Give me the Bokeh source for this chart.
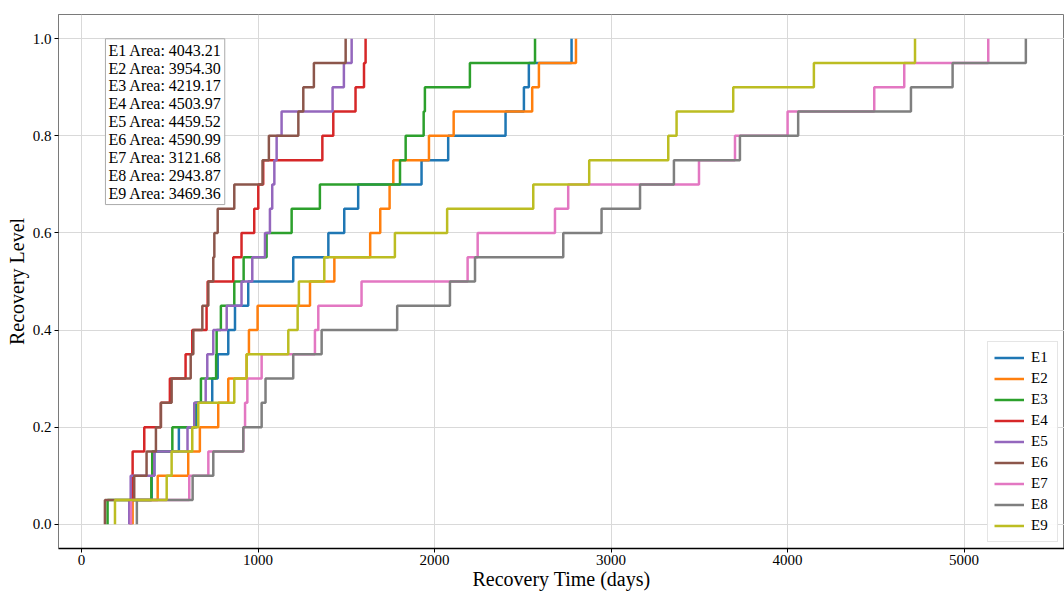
from bokeh.plotting import figure
from bokeh.models import Range1d, FixedTicker, PrintfTickFormatter, Label, Legend, LegendItem
from bokeh.embed import file_html
from bokeh.resources import INLINE

# Recovery levels (each event rises in 0.05 steps)
levels = [0.00, 0.05, 0.10, 0.15, 0.20, 0.25, 0.30, 0.35, 0.40, 0.45, 0.50,
          0.55, 0.60, 0.65, 0.70, 0.75, 0.80, 0.85, 0.90, 0.95, 1.00]

# Recovery times (days) at which each step up happens
E1 = [283, 397, 412, 551, 652, 740, 771, 831, 869, 944, 1199, 1398, 1488, 1567, 1926, 2077, 2402, 2506, 2534, 2776]
E2 = [289, 431, 604, 670, 774, 831, 935, 948, 997, 1294, 1432, 1635, 1692, 1745, 1766, 1968, 2108, 2553, 2591, 2801]
E3 = [147, 395, 400, 514, 642, 676, 762, 765, 789, 865, 918, 1048, 1190, 1350, 1804, 1836, 1938, 1945, 2200, 2569]
E4 = [275, 285, 289, 355, 449, 500, 589, 627, 708, 714, 859, 906, 978, 1001, 1029, 1364, 1426, 1552, 1600, 1609]
E5 = [270, 278, 412, 600, 638, 703, 712, 746, 822, 906, 967, 1039, 1067, 1080, 1092, 1105, 1133, 1422, 1486, 1530]
E6 = [132, 298, 368, 421, 449, 510, 618, 633, 684, 718, 746, 752, 771, 865, 1025, 1061, 1228, 1256, 1316, 1496]
E7 = [280, 610, 718, 916, 926, 939, 1020, 1322, 1341, 1586, 2187, 2244, 2682, 2757, 3498, 3702, 4000, 4491, 4661, 5137]
E8 = [313, 629, 746, 916, 1020, 1042, 1199, 1360, 1788, 2087, 2229, 2729, 2946, 3164, 3356, 3730, 4060, 4699, 4935, 5350]
E9 = [189, 482, 510, 627, 661, 865, 935, 1171, 1224, 1231, 1375, 1775, 2071, 2559, 2876, 3324, 3371, 3692, 4149, 4722]

names = ["E1", "E2", "E3", "E4", "E5", "E6", "E7", "E8", "E9"]
areas = [4043.21, 3954.30, 4219.17, 4503.97, 4459.52, 4590.99, 3121.68, 2943.87, 3469.36]
x_ticks = [0, 1000, 2000, 3000, 4000, 5000]
y_ticks = [0.0, 0.2, 0.4, 0.6, 0.8, 1.0]

series = [E1, E2, E3, E4, E5, E6, E7, E8, E9]
colors = ["#1f77b4", "#ff7f0e", "#2ca02c", "#d62728", "#9467bd",
          "#8c564b", "#e377c2", "#7f7f7f", "#bcbd22"]

FONT = "Liberation Serif"

p = figure(width=1064, height=592, output_backend="svg", toolbar_location=None,
           x_range=Range1d(-131, 5569), y_range=Range1d(-0.05, 1.05),
           min_border_left=58, min_border_right=0, min_border_top=14, min_border_bottom=36)

p.outline_line_color = "#7a7a7a"
p.outline_line_width = 1
p.background_fill_color = "white"
p.border_fill_color = "white"

p.xgrid.grid_line_color = "#d9d9d9"
p.ygrid.grid_line_color = "#d9d9d9"
p.xgrid.grid_line_width = 1
p.ygrid.grid_line_width = 1

p.xaxis.ticker = FixedTicker(ticks=x_ticks)
p.yaxis.ticker = FixedTicker(ticks=y_ticks)
p.yaxis.formatter = PrintfTickFormatter(format="%.1f")
p.xaxis.axis_label = "Recovery Time (days)"
p.yaxis.axis_label = "Recovery Level"
for ax in (p.xaxis, p.yaxis):
    ax.axis_label_text_font = FONT
    ax.axis_label_text_font_style = "normal"
    ax.axis_label_text_font_size = "20px"
    ax.axis_label_text_color = "black"
    ax.major_label_text_font = FONT
    ax.major_label_text_font_size = "15px"
    ax.major_label_text_color = "black"
    ax.minor_tick_line_color = None
    ax.major_tick_out = 4
    ax.major_tick_in = 0
p.xaxis.major_label_standoff = 2
p.xaxis.axis_label_standoff = 0
p.yaxis.major_label_standoff = 3
p.yaxis.axis_label_standoff = 2
p.xaxis.axis_line_color = "black"
p.xaxis.axis_line_width = 1.5
p.yaxis.axis_line_color = "#7a7a7a"

items = []
for name, times, color in zip(names, series, colors):
    xs, ys = [], []
    for i, t in enumerate(times):
        xs += [t, t]
        ys += [levels[i], levels[i + 1]]
    r = p.line(xs, ys, line_width=2.5, line_color=color)
    items.append(LegendItem(label=name, renderers=[r]))

legend = Legend(items=items, location="bottom_right")
legend.label_text_font = FONT
legend.label_text_font_size = "15px"
legend.label_text_color = "black"
legend.glyph_width = 30
legend.glyph_height = 19
legend.label_height = 19
legend.label_standoff = 7
legend.spacing = 2
legend.padding = 6
legend.margin = 6
legend.border_line_color = "#cccccc"
legend.border_line_width = 1
legend.background_fill_alpha = 0.9
p.add_layout(legend, "center")

text = "\n".join(f"{n} Area: {a:.2f}" for n, a in zip(names, areas))
box = Label(x=135, y=1.0, text=text, text_font=FONT, text_font_size="16px",
            text_color="black",
            text_align="left", text_baseline="top", text_line_height=1.05,
            background_fill_color="white", background_fill_alpha=0.9,
            border_line_color="#aaaaaa", border_line_width=1, padding=3)
p.add_layout(box)

open("out.html", "w").write(file_html(p, INLINE))
